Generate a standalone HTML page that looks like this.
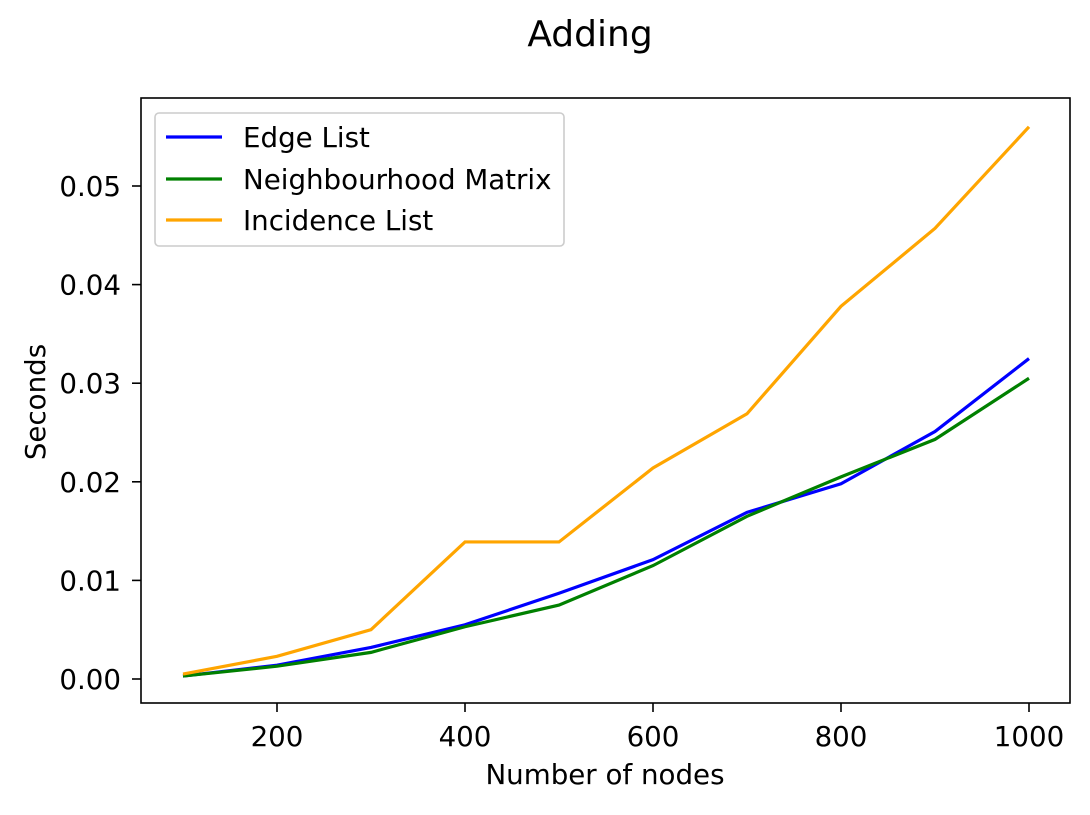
<!DOCTYPE html>
<html><head><meta charset="utf-8"><style>
body{margin:0;background:#fff;}
svg{font-family:"DejaVu Sans","Liberation Sans",sans-serif;}
</style></head><body>
<svg id="chart" width="1090" height="810">
<text x="590" y="46" font-size="36" text-anchor="middle">Adding</text>
<text x="605" y="784" font-size="27.7" text-anchor="middle">Number of nodes</text>
<text x="45" y="402" font-size="27.7" text-anchor="middle" transform="rotate(-90 45 402)">Seconds</text>
<g id="axes"></g>
<g id="series"></g>
<rect x="141" y="98" width="929" height="605" fill="none" stroke="#000" stroke-width="1.6"/>
<g>
<rect x="155" y="113" width="409" height="133" rx="4" fill="#fff" stroke="#ccc" stroke-width="1.6"/>
<line x1="166" y1="137" x2="222" y2="137" stroke="blue" stroke-width="3.2"/>
<text x="243" y="147" font-size="27.7">Edge List</text>
<line x1="166" y1="179" x2="222" y2="179" stroke="green" stroke-width="3.2"/>
<text x="243" y="189" font-size="27.7">Neighbourhood Matrix</text>
<line x1="166" y1="220" x2="222" y2="220" stroke="orange" stroke-width="3.2"/>
<text x="243" y="230" font-size="27.7">Incidence List</text>
</g>
</svg>
<script>
const nodes=[100,200,300,400,500,600,700,800,900,1000];
const edgeList=[0.0003,0.0014,0.0032,0.0055,0.0087,0.0121,0.0169,0.0198,0.0251,0.0325];
const neighbourhoodMatrix=[0.0003,0.0013,0.0027,0.0053,0.0075,0.0115,0.0165,0.0205,0.0243,0.0305];
const incidenceList=[0.0005,0.0023,0.0050,0.0139,0.0139,0.0214,0.0269,0.0378,0.0457,0.0560];
const xTicks=[200,400,600,800,1000];
const yTicks=[0,0.01,0.02,0.03,0.04,0.05];
const yTickLabels=["0.00","0.01","0.02","0.03","0.04","0.05"];
const ns="http://www.w3.org/2000/svg";
function xs(v){return 183+(v-100)*0.94;}
function ys(v){return 679-v*9860;}
const axes=document.getElementById('axes');
function mk(tag,attrs,parent){const e=document.createElementNS(ns,tag);for(const k in attrs)e.setAttribute(k,attrs[k]);parent.appendChild(e);return e;}
xTicks.forEach(t=>{
  const l=mk('line',{x1:xs(t),x2:xs(t),y1:703,y2:712,stroke:'#000','stroke-width':1.6},axes);
  
  
  const tx=mk('text',{x:xs(t),y:746,'font-size':27.7,'text-anchor':'middle'},axes);
  tx.textContent=t;
  
  
});
yTicks.forEach((t,i)=>{
  const l=mk('line',{x1:132,x2:141,y1:ys(t),y2:ys(t),stroke:'#000','stroke-width':1.6},axes);
  
  
  const tx=mk('text',{x:121,y:ys(t)+10,'font-size':27.7,'text-anchor':'end'},axes);
  tx.textContent=yTickLabels[i];
  
  
});
const g=document.getElementById('series');
[[edgeList,'blue','edge-list'],[neighbourhoodMatrix,'green','neighbourhood-matrix'],[incidenceList,'orange','incidence-list']].forEach(([d,c,n])=>{
  const p=mk('polyline',{points:d.map((v,i)=>xs(nodes[i])+','+ys(v)).join(' '),fill:'none',stroke:c,'stroke-width':3.2},g);
  
  
});
</script>
</body></html>
